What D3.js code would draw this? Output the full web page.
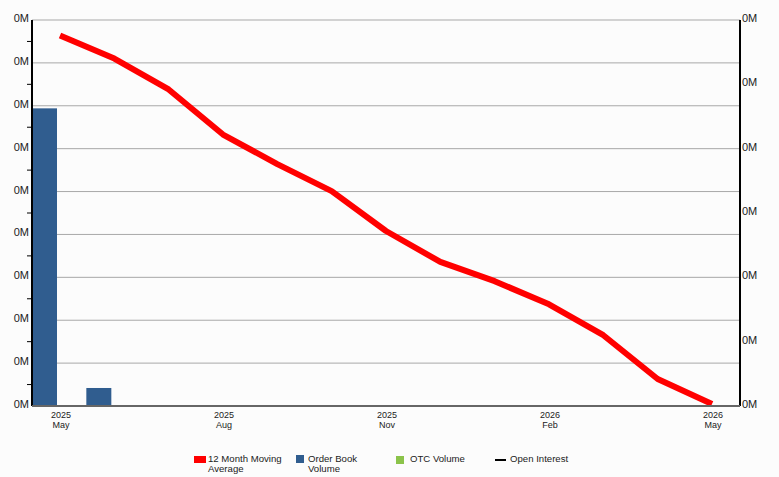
<!DOCTYPE html>
<html><head><meta charset="utf-8">
<script src="https://cdn.jsdelivr.net/npm/d3@7/dist/d3.min.js"></script>
<style>body{margin:0;background:#fcfcfc;font-family:"Liberation Sans",Arial,sans-serif;}</style>
</head><body>
<svg id="c" width="779" height="477"></svg>
<script>
const months = ["2025-05","2025-06","2025-07","2025-08","2025-09","2025-10","2025-11","2025-12","2026-01","2026-02","2026-03","2026-04","2026-05"];
const movingAvg = [288000,270000,246000,211000,188000,167000,136000,112000,97000,79000,55000,21000,1500];
const barMonths = ["2025-05","2025-06"];
const orderBook = [347000,21000];
const otcVolume = [0,0];
const leftTicks = [0,50000,100000,150000,200000,250000,300000,350000,400000,450000];
const rightTicks = [0,50000,100000,150000,200000,250000,300000];
const xTickMonths = ["2025-05","2025-08","2025-11","2026-02","2026-05"];
const legendItems = ["12 Month Moving|Average","Order Book|Volume","OTC Volume","Open Interest"];

const svg = d3.select("#c");
const L=32,R=740,T=20,B=406;
const parse = d3.timeParse("%Y-%m");
const x = d3.scalePoint().domain(months).range([60,712]);
const yL = d3.scaleLinear().domain([0,450000]).range([B,T]);
const yR = d3.scaleLinear().domain([0,300000]).range([B,T]);
const fmtM = v => d3.format(".0f")(v/1e6)+"M";

svg.append("rect").attr("width",779).attr("height",477).attr("fill","#fcfcfc");
// grid
svg.append("g").selectAll("line").data(leftTicks).join("line")
  .attr("x1",L).attr("x2",R).attr("y1",d=>yL(d)).attr("y2",d=>yL(d))
  .attr("stroke","#a8a8a8").attr("stroke-width",1);

// bars
const bw=25;
svg.append("g").selectAll("rect").data(orderBook).join("rect")
  .attr("x",(d,i)=>x(barMonths[i])-28)
  .attr("width",bw).attr("y",d=>yL(d)).attr("height",d=>B-yL(d))
  .attr("fill","#305d8f");

// line
svg.append("path").datum(movingAvg)
  .attr("d",d3.line().x((d,i)=>x(months[i])).y(d=>yR(d)))
  .attr("fill","none").attr("stroke","#ff0000").attr("stroke-width",6).attr("stroke-linejoin","round");

// left axis
const gl = svg.append("g").attr("transform",`translate(${L},0)`);
gl.append("line").attr("y1",T).attr("y2",B).attr("stroke","#000").attr("stroke-width",2);
const minor = d3.range(0,450001,25000).filter(v=>v%50000!==0);
gl.selectAll(".mt").data(minor).join("line").attr("x1",0).attr("x2",-5).attr("y1",d=>yL(d)).attr("y2",d=>yL(d)).attr("stroke","#000");
gl.selectAll("text").data(leftTicks).join("text")
  .attr("x",-3).attr("y",d=>yL(d)+2).attr("text-anchor","end")
  .attr("font-size",11).attr("fill","#222").text(fmtM);

// right axis
const gr = svg.append("g").attr("transform",`translate(${R},0)`);
gr.append("line").attr("y1",T).attr("y2",B).attr("stroke","#000").attr("stroke-width",2);
gr.selectAll("text").data(rightTicks).join("text")
  .attr("x",2).attr("y",d=>yR(d)+2).attr("text-anchor","start")
  .attr("font-size",11).attr("fill","#222").text(fmtM);

// x axis
svg.append("line").attr("x1",L).attr("x2",R).attr("y1",B).attr("y2",B).attr("stroke","#666").attr("stroke-width",2);
const gx = svg.append("g");
xTickMonths.forEach(m=>{
  const d=parse(m), cx=x(m);
  const t=gx.append("text").attr("x",cx+1).attr("y",418).attr("text-anchor","middle").attr("font-size",9).attr("fill","#222");
  t.append("tspan").attr("x",cx+1).text(d3.timeFormat("%Y")(d));
  t.append("tspan").attr("x",cx+1).attr("dy",10).text(d3.timeFormat("%b")(d));
});

// legend
const lg = svg.append("g").attr("font-size",9.6).attr("fill","#222");
const lx=[194,296,396,495];
lg.append("rect").attr("x",lx[0]).attr("y",456).attr("width",12).attr("height",7).attr("fill","#ff0000");
lg.append("rect").attr("x",lx[1]).attr("y",455).attr("width",8).attr("height",8).attr("fill","#305d8f");
lg.append("rect").attr("x",lx[2]).attr("y",456).attr("width",8).attr("height",8).attr("fill","#8bc34a");
lg.append("line").attr("x1",lx[3]).attr("x2",lx[3]+11).attr("y1",460).attr("y2",460).attr("stroke","#000").attr("stroke-width",2);
const tx=[208,308,410,510];
legendItems.forEach((s,i)=>{
  const t=lg.append("text").attr("x",tx[i]).attr("y",462);
  s.split("|").forEach((p,j)=>t.append("tspan").attr("x",tx[i]).attr("dy",j?10:0).text(p));
});
</script>
</body></html>
